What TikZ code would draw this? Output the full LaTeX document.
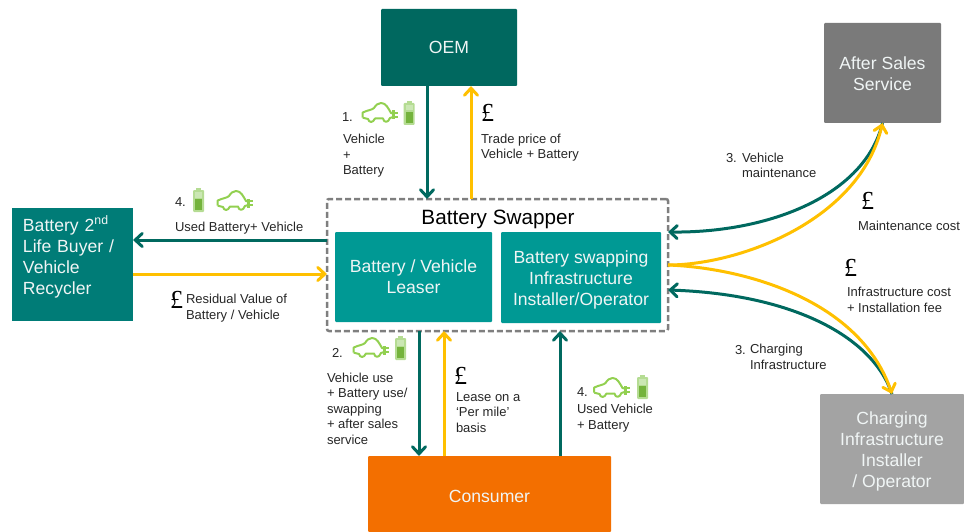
\documentclass[tikz,border=0pt]{standalone}
\usepackage{fontspec}
\setsansfont{Liberation Sans}
\newfontfamily\poundfont{Liberation Serif}
\usetikzlibrary{arrows.meta}
\definecolor{tealarrow}{HTML}{00695F}
\definecolor{yellowarrow}{HTML}{FFC000}
\definecolor{oemcol}{HTML}{00685F}
\definecolor{reccol}{HTML}{007C77}
\definecolor{leasecol}{HTML}{009994}
\definecolor{conscol}{HTML}{F36F00}
\definecolor{aftercol}{HTML}{7A7A7A}
\definecolor{chargecol}{HTML}{A3A3A3}
\definecolor{dashcol}{HTML}{7F7F7F}
\definecolor{txtcol}{HTML}{262626}
\definecolor{boxtxt}{HTML}{F0F5F5}
\definecolor{icongreen}{HTML}{92D050}
\definecolor{battlight}{HTML}{B5DC93}
\definecolor{battdark}{HTML}{74B33C}
\tikzset{
  box/.style={rounded corners=1pt,inner sep=0pt,outer sep=0pt,text=boxtxt,align=center,
    font=\sffamily\fontsize{17.6}{21}\selectfont},
  lbl/.style={anchor=base west,inner sep=0pt,outer sep=0pt,align=left,text=txtcol,
    font=\sffamily\fontsize{13}{15.5}\selectfont},
  pound/.style={anchor=base west,inner sep=0pt,outer sep=0pt,text=black,
    font=\poundfont\fontsize{26}{26}\selectfont},
  tealline/.style={draw=tealarrow,line width=3pt,-{Straight Barb[length=7pt,width=13pt,line cap=round]}},
  yellowline/.style={draw=yellowarrow,line width=3pt,-{Straight Barb[length=7pt,width=13pt,line cap=round]}},
  carpic/.pic={
    \draw[icongreen,line width=2pt,line join=round]
      (0.7,15.7) -- (0.7,10.5) .. controls (6,8) and (10,8) .. (12,6)
      .. controls (14,3) and (16,1) .. (19,1) .. controls (24,1) and (26,6) .. (29,11)
      -- (31,11.5);
    \draw[icongreen,line width=2pt,line join=round]
      (0.7,15.7) .. controls (3,16.5) and (5,16.5) .. (6,17) .. controls (7,21) and (11,21) .. (13,16.5)
      -- (21,16.5) .. controls (22,21) and (26,21) .. (28,16) -- (31,15);
    \fill[icongreen] (30,8.5) rectangle (33,17.5);
    \draw[icongreen,line width=1.5pt] (33,10.8) -- (36,10.8) (33,15.2) -- (36,15.2);
  },
  battpic/.pic={
    \fill[battlight] (0,2) [rounded corners=1pt] rectangle (11,24);
    \fill[battlight] (3,0) rectangle (8,2);
    \fill[battdark] (2,11) rectangle (9,22);
    \fill[battlight!70!white] (2,4) rectangle (9,9.5);
  }
}
\begin{document}
\begin{tikzpicture}[x=1pt,y=-1pt]
\useasboundingbox (0,0) rectangle (964,532);
% boxes
\node[box,fill=oemcol,minimum width=136pt,minimum height=77pt] (oem) at (449,47.5) {OEM};
\node[box,fill=aftercol,minimum width=117pt,minimum height=100pt,text height=36pt] (after) at (882.5,73) {After Sales\\Service};
\node[box,fill=chargecol,minimum width=144pt,minimum height=110pt,text height=80pt] (charge) at (892,449) {Charging\\Infrastructure\\Installer\\/ Operator};
\node[box,fill=conscol,minimum width=243pt,minimum height=76pt,text depth=0pt,text height=16pt] (cons) at (489.5,494) {Consumer};
\node[box,fill=reccol,minimum width=121pt,minimum height=113pt,rounded corners=0pt,align=left,text width=99pt,text height=13pt,text depth=80pt] (rec) at (72.5,264.5) {Battery 2\textsuperscript{nd}\\Life Buyer /\\Vehicle\\Recycler};
\node[draw=dashcol,line width=2.5pt,dash pattern=on 6pt off 3pt,rounded corners=2pt,inner sep=0pt,outer sep=0pt,minimum width=341pt,minimum height=132pt] (swap) at (497.5,265) {};
\node[box,fill=leasecol,minimum width=157pt,minimum height=90pt] (lease) at (413.5,277) {Battery / Vehicle\\Leaser};
\node[box,fill=leasecol,minimum width=160pt,minimum height=91pt,text height=59pt] (oper) at (581,277.5) {Battery swapping\\Infrastructure\\Installer/Operator};
\node[anchor=base,inner sep=0pt,text=black,font=\sffamily\fontsize{20.7}{24}\selectfont] (swaptitle) at (498,224) {Battery Swapper};
% anchor columns and rows for the connectors
\coordinate (c1) at (427,0);
\coordinate (c2) at (471,0);
\coordinate (c3) at (419,0);
\coordinate (c4) at (444,0);
\coordinate (c5) at (560,0);
\coordinate (r1) at (0,240);
\coordinate (r2) at (0,274);
\coordinate (e1) at (0,232);
\coordinate (e2) at (0,265);
\coordinate (e3) at (0,290);
% straight connectors
\draw[tealline] (oem.south -| c1) -- (swap.north -| c1);
\draw[yellowline] (swap.north -| c2) -- (oem.south -| c2);
\draw[tealline] (swap.west |- r1) -- (rec.east |- r1);
\draw[yellowline] (rec.east |- r2) -- (swap.west |- r2);
\draw[tealline] (swap.south -| c3) -- (cons.north -| c3);
\draw[yellowline] (cons.north -| c4) -- (swap.south -| c4);
\draw[tealline] (cons.north -| c5) -- (swap.south -| c5);
% curved connectors
\draw[tealline] (after.south) .. controls (865,195) and (770,233) .. (swap.east |- e1);
\draw[tealline] (charge.north) .. controls (872,335) and (790,294) .. (swap.east |- e3);
\draw[yellowline] (swap.east |- e2) .. controls (740,265) and (860,220) .. (after.south);
\draw[yellowline] (swap.east |- e2) .. controls (745,268) and (860,300) .. (charge.north);
% labels
\node[lbl] (n1) at (342,122) {1.};
\node[lbl] (t1) at (343,175) {Vehicle\\+\\Battery};
\node[pound] (p1) at (481,122) {£};
\node[lbl] (t2) at (481,159) {Trade price of\\Vehicle + Battery};
\node[lbl] (n4a) at (175,206) {4.};
\node[lbl] (t3) at (175,231) {Used Battery+ Vehicle};
\node[pound] (p2) at (170,308) {£};
\node[lbl] (t4) at (186,319) {Residual Value of\\Battery / Vehicle};
\node[lbl] (n3a) at (726,163) {3.};
\node[lbl] (t5) at (742,178) {Vehicle\\maintenance};
\node[pound] (p3) at (861,209) {£};
\node[lbl] (t6) at (858,230) {Maintenance cost};
\node[pound] (p4) at (844,276) {£};
\node[lbl] (t7) at (847,312) {Infrastructure cost\\+ Installation fee};
\node[lbl] (n3b) at (735,354) {3.};
\node[lbl] (t8) at (750,369) {Charging\\Infrastructure};
\node[lbl] (n2) at (332,357) {2.};
\node[lbl] (t9) at (327,444) {Vehicle use\\+ Battery use/\\swapping\\+ after sales\\service};
\node[pound] (p5) at (454,384) {£};
\node[lbl] (t10) at (456,432) {Lease on a\\‘Per mile’\\basis};
\node[lbl] (n4b) at (577,396) {4.};
\node[lbl] (t11) at (577,429) {Used Vehicle\\+ Battery};
% icons
\pic at (362,102) {carpic};
\pic at (403.5,101) {battpic};
\pic at (353,337) {carpic};
\pic at (395,336) {battpic};
\pic at (593.5,377) {carpic};
\pic at (637,375) {battpic};
\pic at (193,188) {battpic};
\pic at (217,190) {carpic};
\end{tikzpicture}
\end{document}
